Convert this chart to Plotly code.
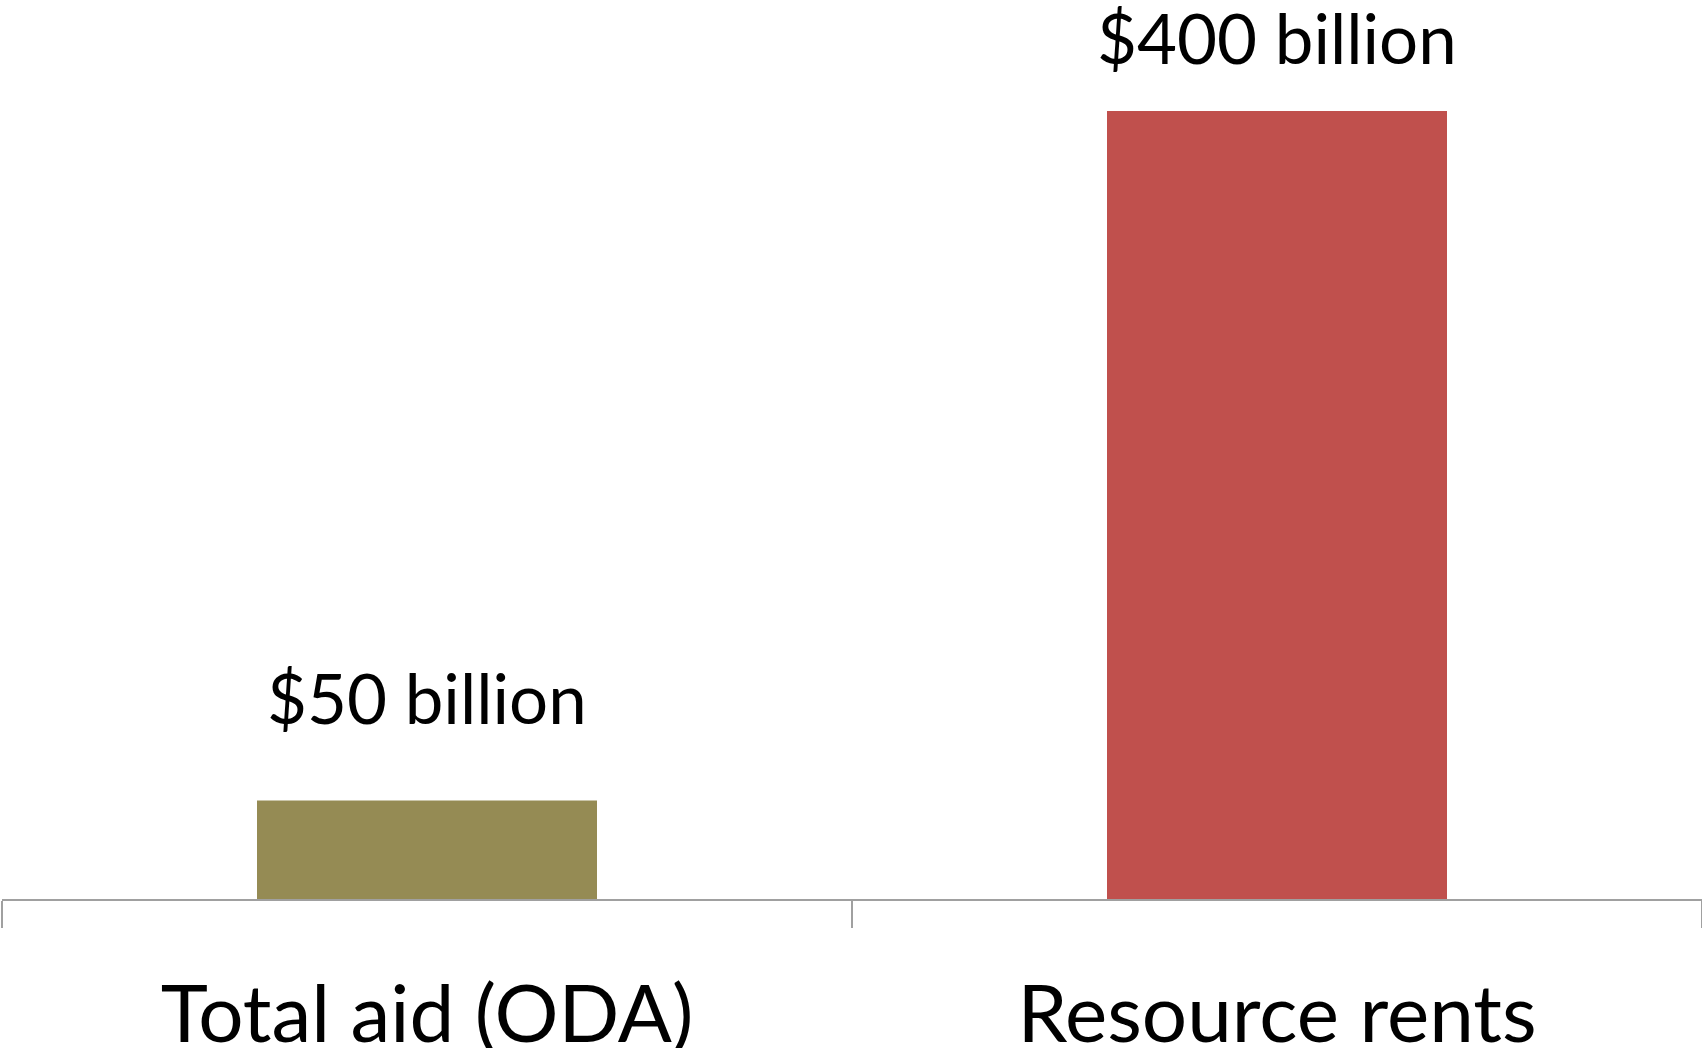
import plotly.graph_objects as go

categories = ["Total aid (ODA)", "Resource rents"]
values = [50, 400]
value_labels = ["$50 billion", "$400 billion"]
bar_colors = ["#958B54", "#C0504D"]

FONT = "Lato, Carlito, Calibri, sans-serif"

fig = go.Figure(
    go.Bar(
        x=categories,
        y=values,
        marker=dict(color=bar_colors, line=dict(width=0)),
        width=0.4,
        hoverinfo="skip",
    )
)

label_shifts = [59, 30]
for cat, val, txt, sh in zip(categories, values, value_labels, label_shifts):
    fig.add_annotation(
        x=cat, y=val, text=txt, showarrow=False,
        yanchor="bottom", yshift=sh,
        font=dict(family=FONT, size=69, color="#000000"),
    )

fig.update_layout(
    width=1702, height=1048,
    margin=dict(l=2, r=0, t=0, b=149, autoexpand=False),
    paper_bgcolor="white", plot_bgcolor="white",
    showlegend=False,
    xaxis=dict(
        automargin=False,
        showline=True, linecolor="#A0A0A0", linewidth=2,
        ticks="outside", tickson="boundaries", ticklen=27, tickwidth=1.5, tickcolor="#A0A0A0",
        tickfont=dict(family=FONT, size=80, color="#000000"),
        ticklabelstandoff=45,
        showgrid=False, zeroline=False,
    ),
    yaxis=dict(
        automargin=False,
        range=[0, 456.3], visible=False, showgrid=False, zeroline=False,
    ),
)

fig.write_html(
    "out.html",
    config={"displayModeBar": False},
    post_script="document.body.style.margin='0px';document.body.style.overflow='hidden';",
)
